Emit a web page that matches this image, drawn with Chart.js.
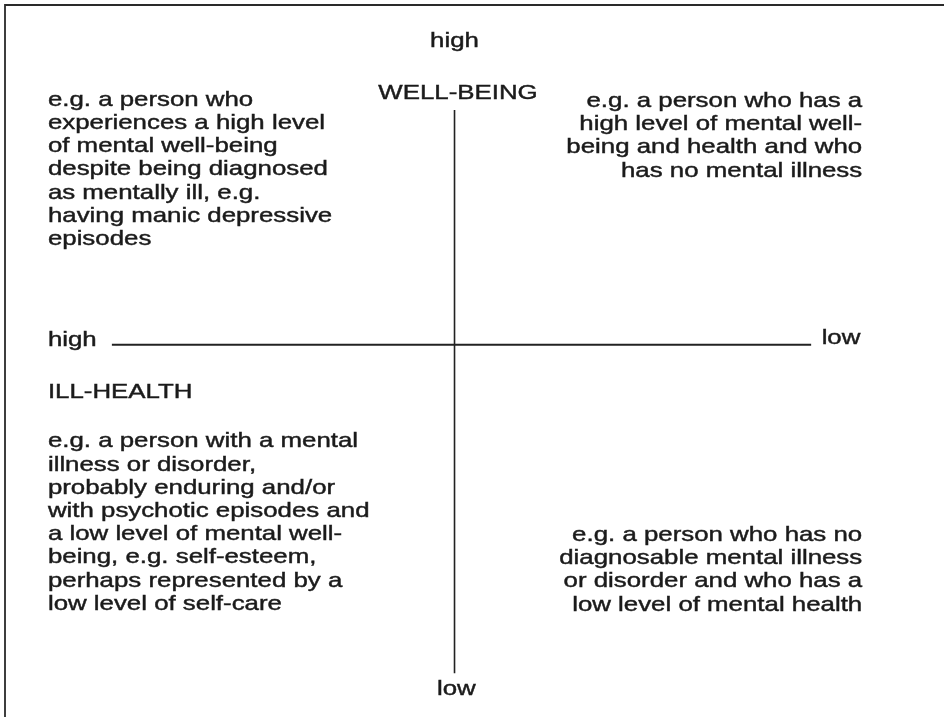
<!DOCTYPE html>
<html>
<head>
<meta charset="utf-8">
<script src="https://cdn.jsdelivr.net/npm/chart.js@4/dist/chart.umd.min.js"></script>
<style>
  html, body { margin: 0; padding: 0; background: #ffffff; }
  #wrap { width: 944px; height: 717px; position: relative; }
</style>
</head>
<body>
<div id="wrap"><canvas id="c" width="944" height="717"></canvas></div>
<script>
// ---- content (data) ----
const wellBeingEnds = ['high', 'low'];          // top, bottom of vertical axis
const illHealthEnds = ['high', 'low'];          // left, right of horizontal axis
const axisTitles = ['WELL-BEING', 'ILL-HEALTH'];
const illHealthAxisX = [-0.98, 1.02];            // horizontal axis extent (ill-health)
const wellBeingAxisY = [1.021, -1.43];           // vertical axis extent (well-being)

const topLeftLines = [
  'e.g. a person who',
  'experiences a high level',
  'of mental well-being',
  'despite being diagnosed',
  'as mentally ill, e.g.',
  'having manic depressive',
  'episodes'
];
const topRightLines = [
  'e.g. a person who has a',
  'high level of mental well-',
  'being and health and who',
  'has no mental illness'
];
const bottomLeftLines = [
  'e.g. a person with a mental',
  'illness or disorder,',
  'probably enduring and/or',
  'with psychotic episodes and',
  'a low level of mental well-',
  'being, e.g. self-esteem,',
  'perhaps represented by a',
  'low level of self-care'
];
const bottomRightLines = [
  'e.g. a person who has no',
  'diagnosable mental illness',
  'or disorder and who has a',
  'low level of mental health'
];

// ---- layout of text blocks (anchor in axis units) ----
const textBlocks = [
  { lines: [wellBeingEnds[0]], x: 0.0, y: 1.295, align: 'center' },
  { lines: [axisTitles[0]], x: 0.01, y: 1.069, align: 'center' },
  { lines: [wellBeingEnds[1]], x: 0.005, y: -1.524, align: 'center' },
  { lines: [illHealthEnds[0]], x: -1.163, y: -0.006, align: 'left' },
  { lines: [illHealthEnds[1]], x: 1.05, y: 0.003, align: 'left' },
  { lines: [axisTitles[1]], x: -1.163, y: -0.232, align: 'left' },
  { lines: topLeftLines, x: -1.163, y: 1.04, align: 'left' },
  { lines: topRightLines, x: 1.166, y: 1.034, align: 'right' },
  { lines: bottomLeftLines, x: -1.163, y: -0.447, align: 'left' },
  { lines: bottomRightLines, x: 1.166, y: -0.854, align: 'right' }
];

const TEXT_FONT = '21px "Liberation Sans", Arial, Helvetica, sans-serif';
const TEXT_COLOR = '#1b1b1b';
const LINE_H = 23.2;
const STRETCH = 1.23;

const framePlugin = {
  id: 'frame',
  beforeDraw(chart) {
    const ctx = chart.ctx;
    ctx.save();
    ctx.fillStyle = '#ffffff';
    ctx.fillRect(0, 0, chart.width, chart.height);
    ctx.strokeStyle = '#2a2a2a';
    ctx.lineWidth = 1.8;
    ctx.beginPath();
    ctx.moveTo(5, chart.height);
    ctx.lineTo(5, 5);
    ctx.lineTo(chart.width, 5);
    ctx.stroke();
    ctx.restore();
  }
};

const textPlugin = {
  id: 'quadText',
  afterDatasetsDraw(chart) {
    const ctx = chart.ctx;
    const xs = chart.scales.x, ys = chart.scales.y;
    ctx.save();
    ctx.font = TEXT_FONT;
    ctx.fillStyle = TEXT_COLOR;
    ctx.strokeStyle = TEXT_COLOR;
    ctx.lineWidth = 0.45;
    ctx.textBaseline = 'alphabetic';
    textBlocks.forEach(b => {
      const px = xs.getPixelForValue(b.x);
      const py = ys.getPixelForValue(b.y);
      ctx.save();
      ctx.translate(px, py);
      ctx.scale(STRETCH, 1);
      ctx.textAlign = b.align;
      b.lines.forEach((t, i) => {
        ctx.fillText(t, 0, i * LINE_H);
        ctx.strokeText(t, 0, i * LINE_H);
      });
      ctx.restore();
    });
    ctx.restore();
  }
};

new Chart(document.getElementById('c'), {
  type: 'scatter',
  data: {
    datasets: [
      {
        label: 'ill-health axis',
        data: illHealthAxisX.map(v => ({ x: v, y: 0 })),
        showLine: true,
        borderColor: '#222222',
        borderWidth: 2,
        pointRadius: 0,
        clip: false
      },
      {
        label: 'well-being axis',
        data: wellBeingAxisY.map(v => ({ x: 0, y: v })),
        showLine: true,
        borderColor: '#222222',
        borderWidth: 1.6,
        pointRadius: 0,
        clip: false
      }
    ]
  },
  options: {
    responsive: false,
    animation: false,
    devicePixelRatio: 1,
    layout: { padding: 0 },
    plugins: { legend: { display: false }, tooltip: { enabled: false } },
    scales: {
      x: { type: 'linear', min: -1.3, max: 1.4, display: false },
      y: { type: 'linear', min: -1.62, max: 1.5, display: false }
    }
  },
  plugins: [framePlugin, textPlugin]
});
</script>
</body>
</html>
